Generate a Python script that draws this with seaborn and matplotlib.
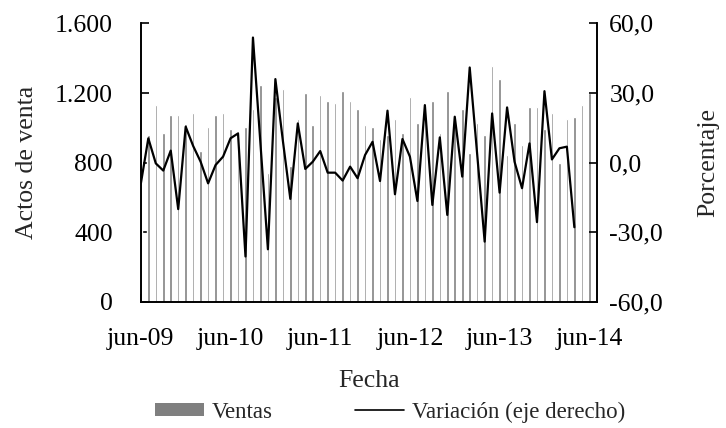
import numpy as np
import pandas as pd
import matplotlib
matplotlib.use('Agg')
import matplotlib.pyplot as plt
import seaborn as sns
from matplotlib.ticker import FuncFormatter
from matplotlib.patches import Patch
from matplotlib.lines import Line2D

# datos mensuales jun-09 .. jun-14
ventas = [891, 961, 1130, 970, 1072, 1072, 1025, 1084, 869, 1006,
          1072, 1084, 992, 981, 1006, 1107, 1244, 741, 1180, 1221,
          779, 1050, 1198, 1015, 1187, 1152, 1141, 1210, 1152, 1107,
          1015, 1004, 935, 958, 1050, 970, 1175, 1027, 1120, 1152,
          970, 1210, 1040, 1107, 855, 1027, 958, 1358, 1278, 844,
          1027, 901, 1118, 1118, 992, 1084, 798, 1050, 1061, 1130,
          1198]
variacion = [-9.0, 10.5, -0.3, -3.4, 5.2, -20.0, 15.5, 7.2, 0.4, -8.9,
             -1.0, 2.6, 10.5, 12.6, -40.4, 53.9, 8.3, -37.3, 36.0, 9.5,
             -15.6, 16.9, -2.7, 0.4, 5.0, -4.3, -4.3, -7.7, -1.7, -6.7,
             3.3, 9.0, -7.9, 22.4, -13.6, 10.2, 2.6, -16.5, 24.8, -18.2,
             10.9, -22.5, 19.8, -6.0, 41.0, 3.6, -34.0, 21.2, -12.9, 23.8,
             0.4, -11.0, 8.3, -25.6, 30.8, 1.4, 6.2, 6.9, -27.8]
etiquetas = ['jun-09', 'jun-10', 'jun-11', 'jun-12', 'jun-13', 'jun-14']

sns.set_style('ticks')
plt.rcParams['font.family'] = ['Liberation Serif', 'DejaVu Serif']
fs = 18.5

df = pd.DataFrame({'mes': np.arange(len(ventas)), 'ventas': ventas})
df_var = pd.DataFrame({'mes': np.arange(len(variacion)), 'variacion': variacion})

fig = plt.figure(figsize=(7.26, 4.28), dpi=100)
ax = fig.add_axes([0.194, 0.2944, 0.628, 0.651])

sns.barplot(data=df, x='mes', y='ventas', color='#7f7f7f', saturation=1,
            width=0.34, ax=ax)
ax2 = ax.twinx()
sns.lineplot(data=df_var, x='mes', y='variacion', color='black', lw=1.6, ax=ax2)

ax.set_xlim(0, 61)
ax.set_ylim(0, 1600)
ax.set_yticks([0, 400, 800, 1200, 1600])
ax.yaxis.set_major_formatter(FuncFormatter(lambda v, p: f'{v:,.0f}'.replace(',', '.')))
ax.set_xticks(range(0, 61, 12))
ax.set_xticklabels(etiquetas)
ax2.set_ylim(-60, 60)
ax2.set_yticks([-60, -30, 0, 30, 60])
ax2.yaxis.set_major_formatter(FuncFormatter(lambda v, p: f'{v:.1f}'.replace('.', ',')))

for a in (ax, ax2):
    a.tick_params(direction='in', length=6, width=1.2, colors='black', labelsize=fs)
    a.spines['top'].set_visible(False)
    for s in ('left', 'right', 'bottom'):
        a.spines[s].set_linewidth(1.2)
        a.spines[s].set_color('black')
ax.tick_params(axis='x', pad=19)
ax.tick_params(axis='y', pad=20)
ax2.tick_params(axis='y', pad=9)

ax.set_xlabel('Fecha', fontsize=fs, labelpad=14)
ax.set_ylabel('Actos de venta', fontsize=fs, labelpad=12)
ax2.set_ylabel('Porcentaje', fontsize=fs, labelpad=25)

handles = [Patch(facecolor='#7f7f7f', edgecolor='none'),
           Line2D([], [], color='black', lw=1.2)]
fig.legend(handles, ['Ventas', 'Variación (eje derecho)'], loc='center',
           bbox_to_anchor=(390 / 726, 1 - 412 / 428), ncol=2, frameon=False,
           handlelength=2.15, handleheight=0.5, handletextpad=0.33,
           columnspacing=3.6, fontsize=16.5)

fig.savefig('out.png', dpi=100)
